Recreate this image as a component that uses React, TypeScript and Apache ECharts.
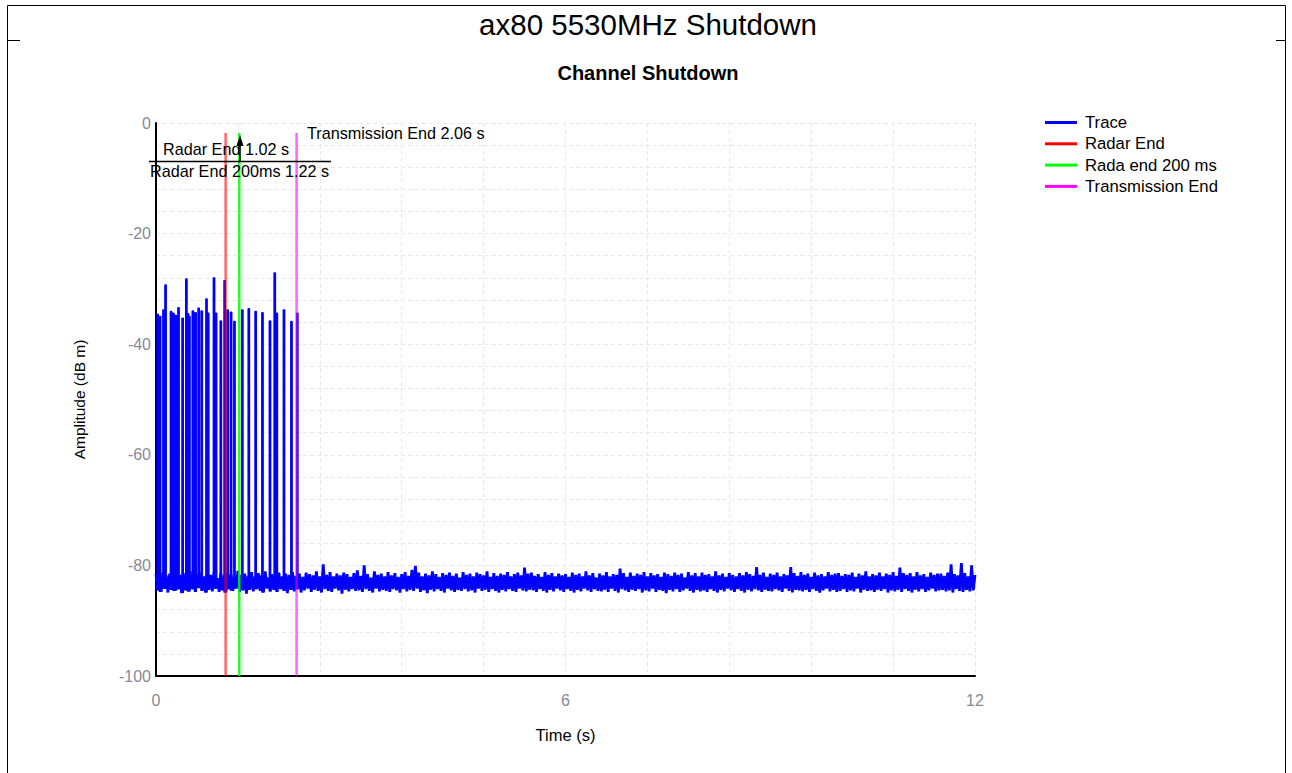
import React, { useEffect, useRef } from "react";
import * as echarts from "echarts";

// Noise floor of the received trace, one sample every NOISE_DT seconds (dBm)
const NOISE_DT = 0.025;
const noiseFloor: number[] = [
  -81.6, -84.5, -82.0, -84.8, -81.3, -84.2, -81.8, -84.9, -81.5, -84.4, -82.2, -84.6, -81.2, -84.3, -81.7, -85.0, -81.4, -84.5, -81.9, -84.7,
  -81.1, -84.3, -82.1, -84.8, -81.6, -84.1, -81.3, -84.6, -82.0, -84.9, -81.5, -84.4, -81.7, -84.7, -81.2, -84.2, -82.3, -84.8, -81.4, -84.5,
  -81.8, -84.9, -81.3, -84.3, -81.6, -84.6, -82.1, -84.2, -81.0, -84.8, -81.7, -84.5, -81.5, -85.1, -81.9, -84.4, -81.2, -84.7, -82.0, -84.3,
  -81.4, -84.6, -81.7, -84.9, -81.1, -84.2, -82.2, -84.7, -81.6, -84.4, -81.8, -84.8, -81.3, -84.3, -82.0, -84.6, -81.5, -85.0, -81.7, -84.4,
  -81.2, -84.7, -81.9, -84.3, -81.5, -84.9, -82.1, -84.5, -81.3, -84.2, -81.6, -84.8, -81.8, -84.4, -81.1, -84.6, -82.0, -84.9, -79.8, -84.3,
  -81.7, -84.6, -81.2, -84.8, -82.0, -84.2, -81.5, -84.5, -81.8, -85.1, -81.3, -84.4, -81.6, -84.7, -82.1, -84.3, -81.4, -84.6, -80.9, -84.5,
  -81.9, -84.8, -80.0, -84.3, -81.6, -84.6, -82.2, -84.9, -81.1, -84.2, -81.7, -84.7, -81.5, -84.4, -82.0, -84.6, -81.2, -84.8, -81.8, -84.3,
  -81.4, -84.5, -82.1, -84.9, -81.6, -84.3, -81.2, -84.7, -81.9, -84.4, -80.8, -84.6, -80.1, -84.2, -81.3, -84.8, -82.0, -84.5, -81.5, -85.0,
  -81.8, -84.4, -81.1, -84.7, -81.6, -84.3, -82.1, -84.6, -81.4, -84.9, -81.7, -84.2, -81.3, -84.5, -81.9, -84.8, -81.5, -84.4, -82.2, -84.6,
  -81.2, -84.3, -81.7, -84.7, -81.5, -84.5, -82.0, -84.9, -81.3, -84.2, -81.6, -84.6, -81.8, -84.4, -81.1, -84.8, -82.1, -84.3, -81.4, -84.6,
  -81.9, -84.9, -81.5, -84.4, -81.7, -84.7, -81.2, -84.3, -82.0, -84.6, -81.6, -84.8, -81.3, -84.2, -81.8, -84.5, -80.4, -84.7, -81.5, -84.4,
  -81.3, -84.5, -81.9, -84.8, -81.6, -84.3, -82.1, -84.6, -81.2, -84.9, -81.7, -84.4, -81.4, -84.7, -82.0, -84.2, -81.5, -84.5, -81.8, -84.8,
  -81.6, -84.3, -82.1, -84.6, -81.3, -84.9, -81.7, -84.4, -81.5, -84.7, -82.0, -84.2, -81.1, -84.5, -81.8, -84.8, -81.4, -84.3, -82.2, -84.6,
  -81.5, -84.7, -81.8, -84.4, -81.2, -84.8, -82.0, -84.2, -81.6, -84.6, -81.7, -84.9, -80.6, -84.3, -81.4, -84.5, -82.1, -84.8, -81.3, -84.4,
  -81.9, -84.6, -81.5, -84.3, -81.7, -84.9, -81.2, -84.5, -82.0, -84.7, -81.4, -84.2, -81.8, -84.8, -81.6, -84.4, -82.1, -84.6, -81.3, -85.0,
  -81.6, -84.4, -81.9, -84.7, -81.3, -84.3, -81.7, -84.8, -81.5, -84.5, -82.2, -84.2, -81.2, -84.6, -81.8, -84.9, -81.4, -84.4, -82.0, -84.7,
  -81.3, -84.5, -81.7, -84.8, -81.6, -84.3, -82.0, -84.6, -81.1, -84.9, -81.8, -84.4, -81.5, -84.7, -82.1, -84.2, -81.4, -84.5, -81.7, -84.8,
  -82.0, -84.3, -81.4, -84.6, -81.8, -84.9, -81.2, -84.4, -81.6, -84.7, -81.9, -84.3, -80.3, -84.5, -81.7, -84.8, -81.3, -84.4, -82.1, -84.6,
  -81.5, -84.7, -81.7, -84.3, -81.3, -84.5, -82.0, -84.8, -81.6, -84.2, -81.8, -84.6, -80.3, -84.9, -81.4, -84.4, -81.9, -84.5, -81.2, -84.7,
  -81.7, -84.4, -81.5, -84.8, -82.1, -84.3, -81.3, -84.6, -81.8, -84.9, -81.6, -84.5, -82.0, -84.2, -81.2, -84.7, -81.7, -84.4, -81.5, -84.8,
  -81.4, -84.6, -81.9, -84.3, -81.6, -84.8, -81.7, -84.5, -81.3, -84.7, -82.1, -84.2, -81.5, -84.9, -81.8, -84.4, -81.1, -84.6, -82.0, -84.5,
  -81.6, -84.8, -81.8, -84.4, -81.3, -84.6, -82.0, -84.3, -81.5, -84.9, -81.7, -84.5, -81.2, -84.7, -81.9, -84.4, -80.4, -84.8, -81.4, -84.3,
  -81.7, -84.6, -81.4, -84.9, -82.0, -84.4, -81.2, -84.7, -81.8, -84.3, -81.6, -84.8, -82.1, -84.5, -81.3, -84.2, -81.7, -84.7, -81.5, -84.5,
  -81.5, -84.4, -81.9, -84.7, -81.3, -84.5, -79.8, -84.9, -81.6, -84.3, -81.8, -84.6, -79.6, -84.8, -81.4, -84.4, -82.0, -84.7, -80.0, -84.5,
  -81.7,
];

// Radar-triggered transmission bursts: start time (s) and peak level (dBm)
const PULSE_WIDTH = 0.02;
const pulseTimes: number[] = [
  0.015, 0.05, 0.1, 0.13, 0.21, 0.245, 0.28, 0.32, 0.38, 0.435, 0.46, 0.48, 0.53, 0.57,
  0.615, 0.66, 0.73, 0.755, 0.84, 0.87, 0.94, 0.996, 1.04, 1.09, 1.14, 1.255, 1.35, 1.45,
  1.55, 1.66, 1.73, 1.76, 1.865, 1.975, 2.06,
];
const pulsePeaks: number[] = [
  -34.6, -35.0, -33.8, -29.3, -34.1, -34.4, -34.8, -33.4, -35.3, -28.2, -34.5, -35.0, -34.0, -34.3,
  -33.5, -34.0, -31.8, -34.4, -28.0, -34.4, -35.8, -28.5, -33.8, -34.2, -35.9, -33.8, -33.6, -34.1,
  -34.3, -35.8, -27.1, -34.4, -33.8, -35.9, -34.4,
];

// Event markers (s)
const radarEnd = 1.02;
const radarEnd200 = 1.22;
const transmissionEnd = 2.06;
const markerTop = -1.8;

const FONT = "'Liberation Sans', Arial, sans-serif";

// Noise floor samples as [time, level]
function buildNoise(): [number, number][] {
  return noiseFloor.map((v, i) => [+(i * NOISE_DT).toFixed(4), v]);
}

// Each burst rises from the floor to its peak and back; bursts are separated by gaps
function buildPulses(): (number | null)[][] {
  const pts: (number | null)[][] = [];
  pulseTimes.forEach((t, k) => {
    let i = Math.min(noiseFloor.length - 1, Math.round(t / NOISE_DT));
    if (i % 2 === 0) i = Math.min(i + 1, noiseFloor.length - 1);
    const base = noiseFloor[i];
    const p = pulsePeaks[k];
    pts.push([t, base], [t, p], [t + PULSE_WIDTH, p], [t + PULSE_WIDTH, base], [t + PULSE_WIDTH + 0.001, null]);
  });
  return pts;
}

function marker(name: string, t: number, color: string, opacity: number) {
  return {
    name,
    type: "line",
    data: [
      [t, -100],
      [t, markerTop],
    ],
    showSymbol: false,
    symbol: "none",
    itemStyle: { color },
    lineStyle: { color, width: 2.5, opacity },
    z: 5,
  };
}

export default function App() {
  const ref = useRef<HTMLDivElement>(null);

  useEffect(() => {
    if (!ref.current) return;
    const chart = echarts.init(ref.current, undefined, { renderer: "svg" });

    const gridLine = { show: true, lineStyle: { color: "#e8e8e8", type: [4, 3], width: 1 } };
    const tickLabel = { color: "#868a9a", fontSize: 16, fontFamily: FONT };
    const annText = (text: string, x: number, y: number) => ({
      type: "text",
      left: x,
      top: y,
      style: { text, fill: "#000", font: `16.2px ${FONT}` },
      z: 20,
    });

    chart.setOption({
      animation: false,
      backgroundColor: "#fff",
      title: [
        {
          text: "ax80 5530MHz Shutdown",
          left: 648,
          top: 8,
          textAlign: "center",
          padding: 0,
          textStyle: { fontSize: 29.5, fontWeight: "normal", color: "#000", fontFamily: FONT, lineHeight: 32 },
        },
        {
          text: "Channel Shutdown",
          left: 648,
          top: 63,
          textAlign: "center",
          padding: 0,
          textStyle: { fontSize: 20, fontWeight: "bold", color: "#000", fontFamily: FONT, lineHeight: 20 },
        },
      ],
      legend: {
        orient: "vertical",
        left: 1045,
        top: 114,
        itemWidth: 32,
        itemHeight: 3,
        itemGap: 4.3,
        icon: "rect",
        padding: 0,
        textStyle: { fontSize: 16.7, fontFamily: FONT, color: "#000", lineHeight: 16.5, padding: [0, 0, 0, 3] },
        data: ["Trace", "Radar End", "Rada end 200 ms", "Transmission End"],
      },
      grid: { left: 156, right: 317, top: 123, bottom: 97, containLabel: false },
      xAxis: {
        type: "value",
        min: 0,
        max: 12,
        interval: 1.2,
        name: "Time (s)",
        nameLocation: "middle",
        nameGap: 50,
        nameTextStyle: { fontSize: 16.5, color: "#000", fontFamily: FONT },
        axisLine: { show: true, onZero: false, lineStyle: { color: "#000", width: 2 } },
        axisTick: { show: false },
        axisLabel: {
          ...tickLabel,
          margin: 16,
          formatter: (v: number) => (Math.abs(v / 6 - Math.round(v / 6)) < 1e-6 ? String(Math.round(v)) : ""),
        },
        splitLine: gridLine,
      },
      yAxis: {
        type: "value",
        min: -100,
        max: 0,
        interval: 4,
        name: "Amplitude (dB m)",
        nameLocation: "middle",
        nameGap: 69,
        nameTextStyle: { fontSize: 15.5, color: "#000", fontFamily: FONT },
        axisLine: { show: true, onZero: false, lineStyle: { color: "#000", width: 2 } },
        axisTick: { show: false },
        axisLabel: {
          ...tickLabel,
          margin: 5,
          formatter: (v: number) => (Math.round(v) % 20 === 0 ? String(Math.round(v)) : ""),
        },
        splitLine: gridLine,
      },
      series: [
        {
          name: "Trace",
          type: "line",
          data: buildNoise(),
          showSymbol: false,
          symbol: "none",
          itemStyle: { color: "#0000ff" },
          lineStyle: { color: "#0000ff", width: 2.8 },
          z: 3,
        },
        {
          name: "Trace",
          type: "line",
          data: buildPulses(),
          connectNulls: false,
          showSymbol: false,
          symbol: "none",
          itemStyle: { color: "#0000ff" },
          lineStyle: { color: "#0000ff", width: 1.4 },
          z: 3,
        },
        marker("Radar End", radarEnd, "#ff0000", 0.6),
        marker("Rada end 200 ms", radarEnd200, "#00ff00", 0.85),
        marker("Transmission End", transmissionEnd, "#ff00ff", 0.6),
      ],
      graphic: [
        {
          type: "polyline",
          shape: { points: [[7.5, 773], [7.5, 5.5], [1285.5, 5.5], [1285.5, 773]] },
          style: { stroke: "#000", fill: null, lineWidth: 1 },
          silent: true,
        },
        { type: "line", shape: { x1: 7, y1: 40.5, x2: 20, y2: 40.5 }, style: { stroke: "#000", lineWidth: 1 } },
        { type: "line", shape: { x1: 1276, y1: 40.5, x2: 1286, y2: 40.5 }, style: { stroke: "#000", lineWidth: 1 } },
        annText(`Transmission End ${transmissionEnd.toFixed(2)} s`, 307, 125),
        annText(`Radar End ${radarEnd.toFixed(2)} s`, 163, 141),
        annText(`Radar End 200ms ${radarEnd200.toFixed(2)} s`, 150, 163),
        {
          type: "line",
          shape: { x1: 149, y1: 161.5, x2: 331, y2: 161.5 },
          style: { stroke: "#000", lineWidth: 1.5 },
          z: 21,
        },
        {
          type: "line",
          shape: { x1: 240, y1: 161, x2: 240, y2: 144 },
          style: { stroke: "#000", lineWidth: 1.5 },
          z: 21,
        },
        {
          type: "polygon",
          shape: { points: [[236.5, 146], [240, 135], [243.5, 146]] },
          style: { fill: "#000" },
          z: 21,
        },
      ],
    });

    return () => chart.dispose();
  }, []);

  return (
    <div
      ref={ref}
      style={{ position: "fixed", left: 0, top: 0, width: 1292, height: 773, background: "#fff" }}
    />
  );
}
